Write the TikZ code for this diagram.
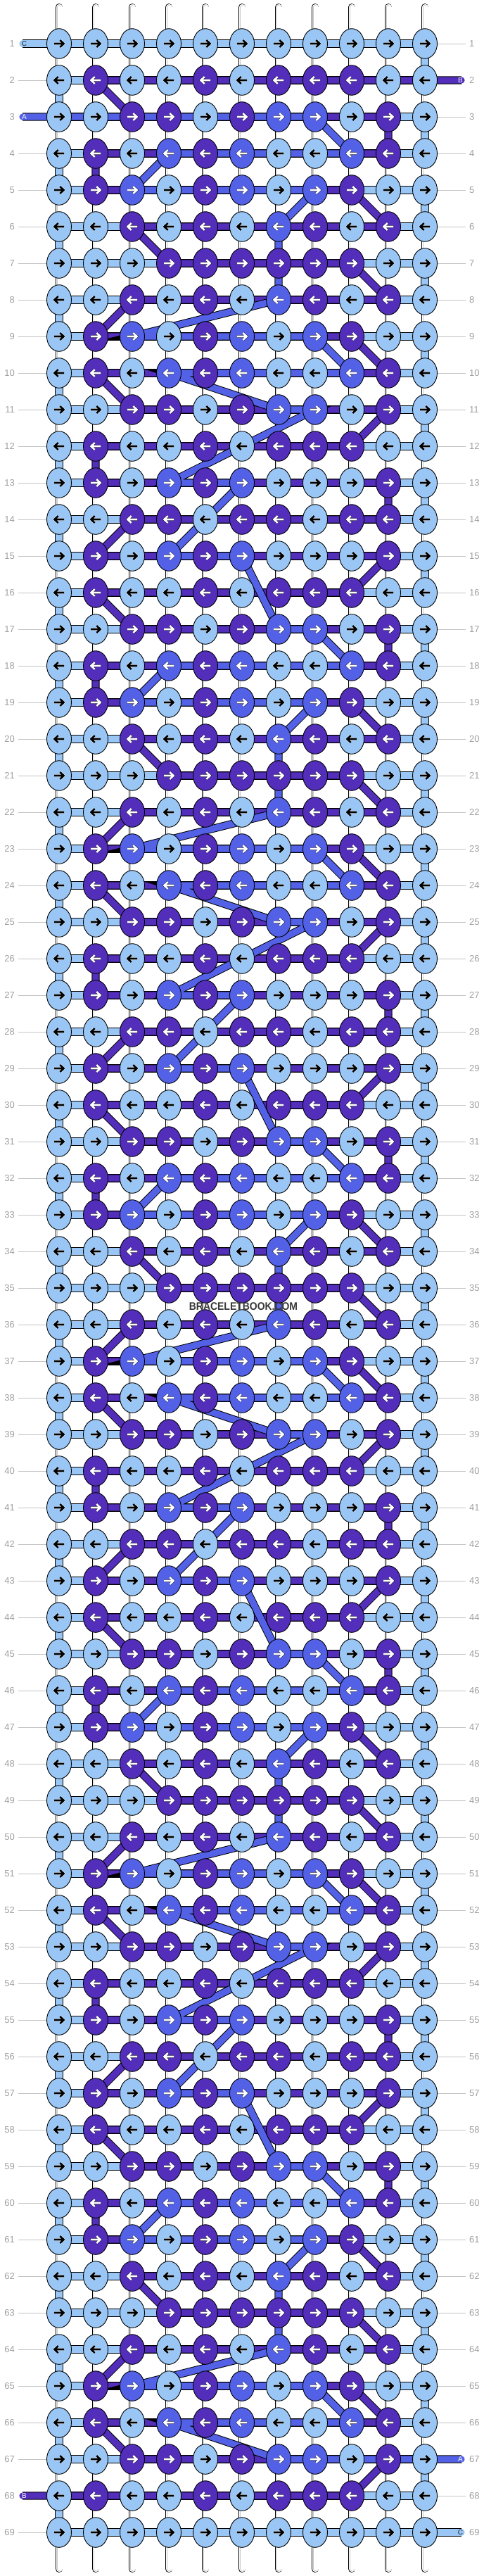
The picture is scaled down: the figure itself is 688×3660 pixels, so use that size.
\documentclass[tikz,border=0pt]{standalone}
\usepackage{fontspec}
\setmainfont{Liberation Sans}
\usetikzlibrary{shapes.geometric}
\definecolor{colL}{HTML}{99C6F4}
\definecolor{colP}{HTML}{522EBB}
\definecolor{colM}{HTML}{5361E7}
\definecolor{lblgray}{HTML}{A0A0A0}
\definecolor{rulegray}{HTML}{C4C4C4}
\definecolor{warpgray}{HTML}{C8C8C8}
\pgfdeclarelayer{warp}
\pgfdeclarelayer{strings}
\pgfsetlayers{warp,strings,main}
\expandafter\def\csname pat1\endcsname{L,L,L,L,L,L,L,L,L,L,L}
\expandafter\def\csname pat2\endcsname{L,P,L,L,P,L,P,P,P,L,L}
\expandafter\def\csname pat3\endcsname{L,L,P,P,L,P,M,M,L,P,L}
\expandafter\def\csname pat4\endcsname{L,P,L,M,P,M,L,L,M,P,L}
\expandafter\def\csname pat5\endcsname{L,P,M,L,P,M,L,M,P,L,L}
\expandafter\def\csname pat6\endcsname{L,L,P,L,P,L,M,P,L,P,L}
\expandafter\def\csname pat7\endcsname{L,L,L,P,P,P,P,P,P,L,L}
\expandafter\def\csname pat8\endcsname{L,L,P,L,P,L,M,P,L,P,L}
\expandafter\def\csname pat9\endcsname{L,P,M,L,P,M,L,M,P,L,L}
\expandafter\def\csname pat10\endcsname{L,P,L,M,P,M,L,L,M,P,L}
\expandafter\def\csname pat11\endcsname{L,L,P,P,L,P,M,M,L,P,L}
\expandafter\def\csname pat12\endcsname{L,P,L,L,P,L,P,P,P,L,L}
\expandafter\def\csname pat13\endcsname{L,P,L,M,P,M,L,L,L,P,L}
\expandafter\def\csname pat14\endcsname{L,L,P,P,L,P,P,L,P,P,L}
\expandafter\def\csname pat15\endcsname{L,P,L,M,P,M,L,L,L,P,L}
\tikzset{
  knot/.style={ellipse, draw=black, line width=0.9pt, minimum width=35pt, minimum height=42.6pt, inner sep=0pt, outer sep=0pt},
  arrowmark/.style={line width=2.6pt, line cap=butt, line join=miter},
  arrL/.style={arrowmark, draw=black, preaction={draw=white!70!colL, line width=3.6pt}},
  arrP/.style={arrowmark, draw=white, preaction={draw=black!70!colP, line width=3.6pt}},
  arrM/.style={arrowmark, draw=white, preaction={draw=black!70!colM, line width=3.6pt}},
  strand/.style={line width=9.2pt, line cap=round, line join=round, preaction={draw=black, line width=11.2pt}},
  warpout/.style={draw=black, line width=10.6pt, line cap=round},
  warpmid/.style={draw=white, line width=9pt, line cap=round},
  warpgr/.style={draw=warpgray, line width=6.4pt, line cap=round},
  warpin/.style={draw=white, line width=5pt, line cap=round},
  rowlbl/.style={text=lblgray, font=\fontsize{13}{13}\selectfont, inner sep=0pt},
  rowrule/.style={draw=rulegray, line width=0.9pt},
  stubtxt/.style={font=\fontsize{10}{10}\selectfont, inner sep=0pt},
  wmark/.style={font=\bfseries\fontsize{15.5}{16}\selectfont, text=black!78, inner sep=0pt, xscale=0.9}
}
\begin{document}
\begin{tikzpicture}[x=1pt,y=-1pt]
\useasboundingbox (0,0) rectangle (688,3660);
% knots
\foreach \ri in {1,...,69}{
  \pgfmathtruncatemacro\bb{mod(\ri+12,14)+2}
  \ifnum\ri=1 \def\bb{1}\fi
  \ifnum\ri=69 \def\bb{1}\fi
  \pgfmathtruncatemacro\dd{1-2*mod(\ri+1,2)}
  \edef\rowlist{\csname pat\bb\endcsname}
  \foreach \kk [count=\ci from 0] in \rowlist {
    \node[knot, fill=col\kk] (k-\ri-\ci) at (84+52*\ci, 10+52*\ri) {};
    \draw[arr\kk, shift={(k-\ri-\ci.center)}, xscale=\dd] (-7,0) -- (6.2,0) (1.3,-5) -- (6.5,0) -- (1.3,5);
  }
}
% stub ends
\coordinate (sL-1) at (32,62);
\coordinate (sL-3) at (32,166);
\coordinate (sL-68) at (32,3546);
\coordinate (sR-2) at (656,114);
\coordinate (sR-67) at (656,3494);
\coordinate (sR-69) at (656,3598);
\begin{pgfonlayer}{warp}
\fill[white] (0,0) rectangle (688,3660);
\foreach \ci in {0,...,10}{
  \coordinate (wt-\ci) at (84+52*\ci,10.3);
  \coordinate (wb-\ci) at (84+52*\ci,3649.7);
  \draw[warpout] (wt-\ci) -- (wb-\ci);
  \draw[warpmid] (wt-\ci) -- (wb-\ci);
  \draw[warpgr] (wt-\ci) -- (wb-\ci);
  \draw[warpin] (wt-\ci) -- (wb-\ci);
}
\foreach \ri in {1,...,69}{
  \node[rowlbl, anchor=east] (ll-\ri) at (21,10+52*\ri) {\ri};
  \node[rowlbl, anchor=west] (lr-\ri) at (667,10+52*\ri) {\ri};
}
\foreach \ri in {2,4,5,...,67,69}{
  \draw[rowrule] (26,10+52*\ri) -- (k-\ri-0.west);
}
\foreach \ri in {1,3,4,...,66,68}{
  \draw[rowrule] (k-\ri-10.east) -- (662,10+52*\ri);
}
\end{pgfonlayer}
\begin{pgfonlayer}{strings}
% string C (light blue)
\draw[strand, draw=colL] (sL-1)
  \foreach \ri [evaluate=\ri as \rs using int(\ri+1)] in {1,3,...,67} { -- (k-\ri-0.center) -- (k-\ri-10.center) -- (k-\rs-10.center) -- (k-\rs-0.center) }
  -- (k-69-0.center) -- (k-69-10.center) -- (sR-69);
% string B (purple)
\draw[strand, draw=colP] (sR-2)
  \foreach \pp in {-14,0,14,28} { \foreach \ri/\ci [evaluate=\ri as \rr using int(\ri+\pp)] in {16/8,16/1,17/2,17/9,18/9,18/1,19/1,19/8,20/9,20/2,21/3,21/8,22/9,22/2,23/1,23/8,24/9,24/1,25/2,25/9,26/8,26/1,27/1,27/9,28/9,28/2,29/1,29/9} { -- (k-\rr-\ci.center) } }
  \foreach \ri/\ci [evaluate=\ri as \rr using int(\ri+42)] in {16/8,16/1,17/2,17/9,18/9,18/1,19/1,19/8,20/9,20/2,21/3,21/8,22/9,22/2,23/1,23/8,24/9,24/1,25/2,25/9,26/8} { -- (k-\rr-\ci.center) }
  -- (k-68-0.center) -- (sL-68);
% string A (medium blue)
\draw[strand, draw=colM] (sL-3)
  \foreach \pp in {-14,0,14,28} { \foreach \ri/\ci [evaluate=\ri as \rr using int(\ri+\pp)] in {17/6,17/7,18/8,18/3,19/2,19/7,20/6,21/6,22/6,23/2,23/7,24/8,24/3,25/6,25/7,27/3,27/5,29/3,29/5} { -- (k-\rr-\ci.center) } }
  \foreach \ri/\ci [evaluate=\ri as \rr using int(\ri+42)] in {17/6,17/7,18/8,18/3,19/2,19/7,20/6,21/6,22/6,23/2,23/7,24/8,24/3,25/6} { -- (k-\rr-\ci.center) }
  -- (k-67-10.center) -- (sR-67);
\end{pgfonlayer}
% stub letters
\node[stubtxt, text=black!85] (tC1) at (34.5,62) {C};
\node[stubtxt, text=white] (tA3) at (34.5,166) {A};
\node[stubtxt, text=white] (tB68) at (34.5,3546) {B};
\node[stubtxt, text=white] (tB2) at (654.5,114) {B};
\node[stubtxt, text=white] (tA67) at (654.5,3494) {A};
\node[stubtxt, text=black!85] (tC69) at (654.5,3598) {C};
% watermark
\node[wmark] (wm) at (346,1856) {BRACELETBOOK.COM};
\end{tikzpicture}
\end{document}
